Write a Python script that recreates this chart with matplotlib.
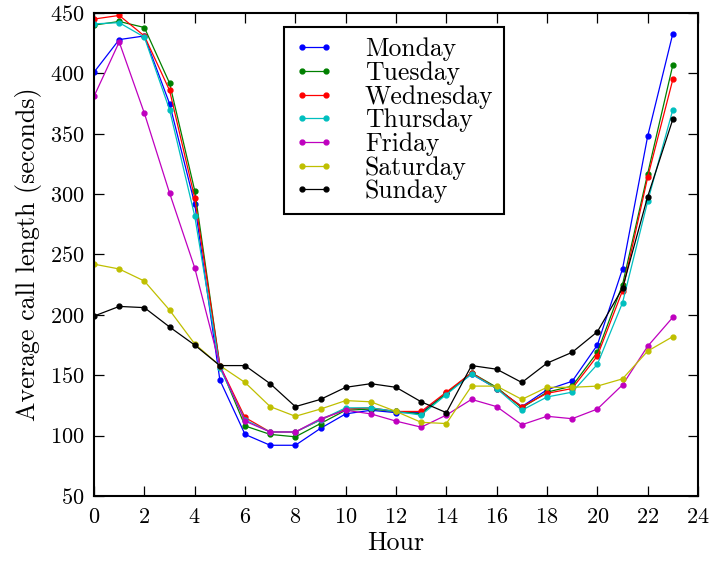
import numpy as np
import matplotlib
matplotlib.use('Agg')
import matplotlib.pyplot as plt

plt.rcParams['font.family'] = ['cmr10', 'DejaVu Serif']
plt.rcParams['mathtext.fontset'] = 'cm'
plt.rcParams['axes.formatter.use_mathtext'] = True

hours = list(range(24))
days = ['Monday', 'Tuesday', 'Wednesday', 'Thursday', 'Friday', 'Saturday', 'Sunday']
colors = ['b', 'g', 'r', 'c', 'm', 'y', 'k']

monday = [401, 428, 431, 375, 292, 146, 101, 92, 92, 106, 118, 121, 119, 119, 135, 151, 139, 124, 138, 145, 175, 238, 348, 433]
tuesday = [440, 443, 438, 392, 303, 158, 108, 101, 99, 110, 121, 122, 120, 118, 135, 152, 140, 123, 136, 141, 169, 225, 317, 407]
wednesday = [445, 448, 431, 386, 297, 158, 115, 103, 103, 113, 122, 123, 120, 120, 136, 152, 139, 124, 135, 139, 166, 220, 314, 395]
thursday = [441, 442, 430, 370, 282, 156, 113, 103, 103, 113, 123, 123, 120, 117, 134, 151, 139, 121, 132, 136, 159, 210, 294, 370]
friday = [381, 426, 367, 301, 239, 158, 112, 103, 103, 114, 121, 118, 112, 107, 117, 130, 124, 109, 116, 114, 122, 142, 174, 198]
saturday = [242, 238, 228, 204, 176, 158, 144, 124, 116, 122, 129, 128, 120, 111, 110, 141, 141, 130, 140, 140, 141, 147, 170, 182]
sunday = [199, 207, 206, 190, 175, 158, 158, 143, 124, 130, 140, 143, 140, 128, 119, 158, 155, 144, 160, 169, 186, 222, 298, 362]
series = [monday, tuesday, wednesday, thursday, friday, saturday, sunday]

fig = plt.figure(figsize=(7.14, 5.61), dpi=100)
ax = fig.add_axes([0.1317, 0.1159, 0.8459, 0.8609])

for name, col, vals in zip(days, colors, series):
    ax.plot(hours, vals, '-o', color=col, lw=0.9, ms=3.5, label=name)

ax.set_xlim(0, 24)
ax.set_ylim(50, 450)
ax.set_xticks(range(0, 25, 2))
ax.set_yticks(range(50, 451, 50))
ax.tick_params(direction='in', length=7, width=0.9, top=True, right=True, labelsize=16)
ax.tick_params(axis='x', pad=8)
ax.tick_params(axis='y', pad=7)
for s in ax.spines.values():
    s.set_linewidth(1.5)

ax.set_xlabel('Hour', fontsize=18.7, labelpad=3)
ax.set_ylabel('Average call length (seconds)', fontsize=18.7, labelpad=6)

leg = ax.legend(loc='upper left', bbox_to_anchor=(0.3146, 0.971), borderaxespad=0,
                fontsize=18.5, numpoints=2, handlelength=1.55, handletextpad=1.2,
                labelspacing=0.0, borderpad=0.4, fancybox=False, framealpha=1)
leg.get_frame().set_edgecolor('black')
leg.get_frame().set_linewidth(1.5)

fig.savefig('out.png', dpi=100)
